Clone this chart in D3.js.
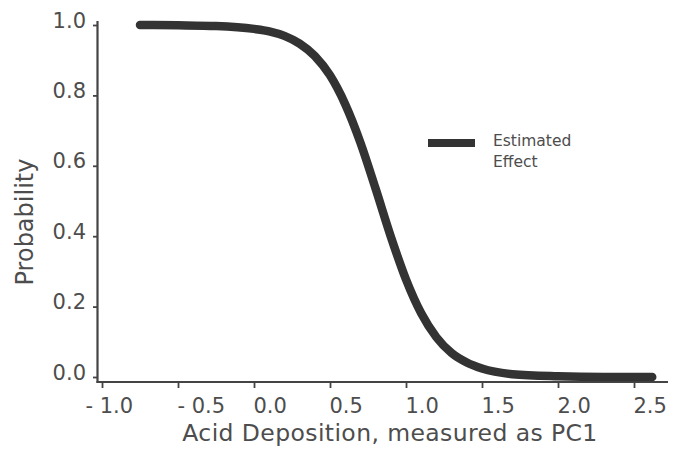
<!DOCTYPE html>
<html>
<head>
<meta charset="utf-8">
<script src="https://cdn.jsdelivr.net/npm/d3@7.9.0/dist/d3.min.js"></script>
<style>
  body { margin: 0; background: #fff; }
  svg { display: block; font-family: "DejaVu Sans", sans-serif; }
</style>
</head>
<body>
<svg id="chart" width="681" height="455"></svg>
<script>
// ---------- Data ----------
const pc1 = [-0.75, -0.5, -0.25, 0, 0.1, 0.2, 0.3, 0.4, 0.5, 0.6, 0.7, 0.8, 0.9,
  1.0, 1.1, 1.2, 1.3, 1.4, 1.5, 1.7, 2.0, 2.3, 2.62];
const probability = [1.0, 0.999, 0.997, 0.989, 0.982, 0.969, 0.947, 0.912, 0.857,
  0.775, 0.666, 0.535, 0.399, 0.277, 0.181, 0.113, 0.068, 0.041, 0.024, 0.008,
  0.002, 0.0, 0.0];
const xTicks = [-1.0, -0.5, 0.0, 0.5, 1.0, 1.5, 2.0, 2.5];
const xTickLabels = ["- 1.0", "- 0.5", "0.0", "0.5", "1.0", "1.5", "2.0", "2.5"];
const yTicks = [0.0, 0.2, 0.4, 0.6, 0.8, 1.0];
const legendLabel = ["Estimated", "Effect"];

const points = pc1.map((v, i) => ({ x: v, p: probability[i] }));

// ---------- Scales ----------
const x = d3.scaleLinear().domain([-1, 2.5]).range([102, 634]);
const y = d3.scaleLinear().domain([0, 1]).range([377, 25]);

const svg = d3.select("#chart");
const axisColor = "#444";
const textColor = "#4d4d4d";

// ---------- Axis lines ----------
svg.append("line")
  .attr("x1", 97.5).attr("x2", 97.5).attr("y1", 21).attr("y2", 383)
  .attr("stroke", axisColor).attr("stroke-width", 2.2);
svg.append("line")
  .attr("x1", 96.5).attr("x2", 668).attr("y1", 382).attr("y2", 382)
  .attr("stroke", axisColor).attr("stroke-width", 2.2);

// ---------- Y axis ----------
const yAxis = svg.append("g")
  .attr("transform", "translate(97,0)")
  .call(d3.axisLeft(y).tickValues(yTicks).tickFormat(d3.format(".1f"))
    .tickSize(4).tickPadding(8));
yAxis.select(".domain").remove();
yAxis.selectAll(".tick line").attr("stroke", axisColor).attr("stroke-width", 1.8);
yAxis.selectAll(".tick text")
  .attr("fill", textColor)
  .attr("font-size", 21)
  .attr("font-family", "DejaVu Sans, sans-serif")
  .attr("dy", 2)
  .attr("x", -11);

// ---------- X axis ----------
const xAxis = svg.append("g")
  .attr("transform", "translate(0,382)")
  .call(d3.axisBottom(x).tickValues(xTicks)
    .tickFormat((d, i) => xTickLabels[i]).tickSize(6).tickPadding(10));
xAxis.select(".domain").remove();
xAxis.selectAll(".tick line").attr("stroke", axisColor).attr("stroke-width", 1.8);
xAxis.selectAll(".tick text")
  .attr("fill", textColor)
  .attr("font-size", 21)
  .attr("font-family", "DejaVu Sans, sans-serif")
  .attr("text-anchor", "start")
  .attr("dy", 0)
  .attr("y", 31)
  .attr("x", (d, i) => (i === 0 ? -17 : -1));

// ---------- Axis titles ----------
svg.append("text")
  .attr("x", 390).attr("y", 441)
  .attr("text-anchor", "middle")
  .attr("font-size", 23.5)
  .attr("letter-spacing", 0.4)
  .attr("fill", textColor)
  .text("Acid Deposition, measured as PC1");

svg.append("text")
  .attr("transform", "translate(33,222) rotate(-90)")
  .attr("text-anchor", "middle")
  .attr("font-size", 24)
  .attr("fill", textColor)
  .text("Probability");

// ---------- Curve ----------
const line = d3.line()
  .x((d) => x(d.x))
  .y((d) => y(d.p))
  .curve(d3.curveMonotoneX);

svg.append("path")
  .datum(points)
  .attr("d", line)
  .attr("fill", "none")
  .attr("stroke", "#333")
  .attr("stroke-width", 8.5)
  .attr("stroke-linecap", "round")
  .attr("stroke-linejoin", "round");

// ---------- Legend ----------
const legend = svg.append("g").attr("transform", "translate(428,143)");
legend.append("line")
  .attr("x1", 0).attr("x2", 47).attr("y1", 0).attr("y2", 0)
  .attr("stroke", "#333").attr("stroke-width", 8);
legend.selectAll("text.lbl")
  .data(legendLabel)
  .join("text")
  .attr("class", "lbl")
  .attr("x", 65)
  .attr("y", (d, i) => 3 + i * 21)
  .attr("font-size", 15.5)
  .attr("fill", textColor)
  .text((d) => d);
</script>
</body>
</html>
